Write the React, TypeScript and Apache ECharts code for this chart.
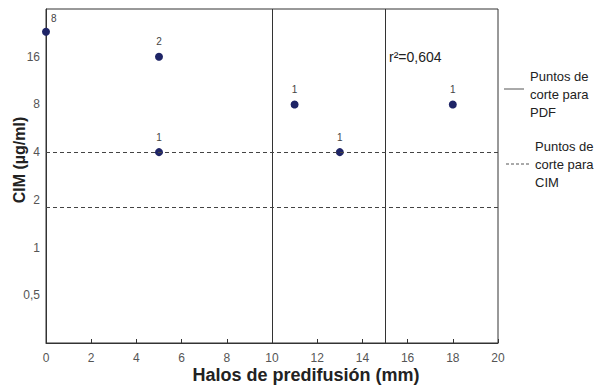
import React, { useEffect, useRef } from "react";
import * as echarts from "echarts";

const haloMm = [0, 5, 5, 11, 13, 18];
const cimValues = [23, 16, 4, 8, 4, 8];
const pointCounts = ["8", "2", "1", "1", "1", "1"];
const pdfCutoffs = [10, 15];
const cimCutoffs = [4, 1.8];
const yTickLabels: Record<string, string> = { "0.5": "0,5", "1": "1", "2": "2", "4": "4", "8": "8", "16": "16" };

const FONT = "Liberation Sans, Arial, sans-serif";

export default function App() {
  const ref = useRef<HTMLDivElement>(null);
  useEffect(() => {
    if (!ref.current) return;
    const chart = echarts.init(ref.current, undefined, { renderer: "svg" });
    const labelBase = { show: true, color: "#444", fontSize: 10, fontFamily: FONT };
    const data = haloMm.map((x, i) => ({
      value: [x, cimValues[i]],
      label:
        i === 0
          ? { ...labelBase, formatter: pointCounts[i], position: [9, -14] as any }
          : { ...labelBase, formatter: pointCounts[i], position: "top" as any, distance: 6 },
    }));
    chart.setOption({
      animation: false,
      textStyle: { fontFamily: FONT },
      grid: { left: 46, right: 105, top: 9, bottom: 43, show: true, borderColor: "#333", borderWidth: 1 },
      xAxis: {
        type: "value",
        min: 0,
        max: 20,
        interval: 2,
        axisLine: { lineStyle: { color: "#333" } },
        axisTick: { inside: true, length: 4, lineStyle: { color: "#333" } },
        axisLabel: { color: "#555", fontSize: 12, margin: 9, fontFamily: FONT },
        splitLine: { show: false },
      },
      yAxis: {
        type: "log",
        logBase: 2,
        min: 0.25,
        max: 32,
        interval: 1,
        axisLine: { show: true, lineStyle: { color: "#333" } },
        axisTick: { show: false },
        axisLabel: {
          color: "#555",
          fontSize: 12,
          margin: 6,
          fontFamily: FONT,
          formatter: (v: number) => yTickLabels[String(v)] ?? "",
        },
        splitLine: { show: false },
      },
      series: [
        {
          type: "scatter",
          data,
          symbolSize: 8,
          itemStyle: { color: "#1e2466", opacity: 1 },
          markLine: {
            silent: true,
            symbol: "none",
            label: { show: false },
            data: [
              ...pdfCutoffs.map((x) => ({ xAxis: x, lineStyle: { type: "solid", color: "#333", width: 1 } })),
              ...cimCutoffs.map((y) => ({ yAxis: y, lineStyle: { type: [4, 3], color: "#444", width: 1 } })),
            ],
          },
        },
      ],
      graphic: [
        {
          type: "text",
          x: 19,
          y: 160,
          rotation: Math.PI / 2,
          style: {
            text: "CIM (µg/ml)",
            font: `bold 16px ${FONT}`,
            fill: "#222",
            align: "center",
            verticalAlign: "middle",
          },
        },
        {
          type: "text",
          x: 306,
          y: 375,
          style: {
            text: "Halos de predifusión (mm)",
            font: `bold 18px ${FONT}`,
            fill: "#222",
            align: "center",
            verticalAlign: "middle",
          },
        },
        {
          type: "text",
          x: 389,
          y: 57,
          style: { text: "r²=0,604", font: `14px ${FONT}`, fill: "#222", verticalAlign: "middle" },
        },
        { type: "line", shape: { x1: 504, y1: 89, x2: 524, y2: 89 }, style: { stroke: "#555", lineWidth: 1 } },
        {
          type: "text",
          x: 530,
          y: 94,
          style: {
            text: "Puntos de\ncorte para\nPDF",
            font: `13px ${FONT}`,
            lineHeight: 18,
            fill: "#222",
            verticalAlign: "middle",
          },
        },
        {
          type: "line",
          shape: { x1: 506, y1: 164, x2: 530, y2: 164 },
          style: { stroke: "#555", lineWidth: 1, lineDash: [3, 2] },
        },
        {
          type: "text",
          x: 535,
          y: 164,
          style: {
            text: "Puntos de\ncorte para\nCIM",
            font: `13px ${FONT}`,
            lineHeight: 18,
            fill: "#222",
            verticalAlign: "middle",
          },
        },
      ],
    });
    return () => chart.dispose();
  }, []);
  return <div ref={ref} style={{ width: 603, height: 386, position: "absolute", left: 0, top: 0 }} />;
}
